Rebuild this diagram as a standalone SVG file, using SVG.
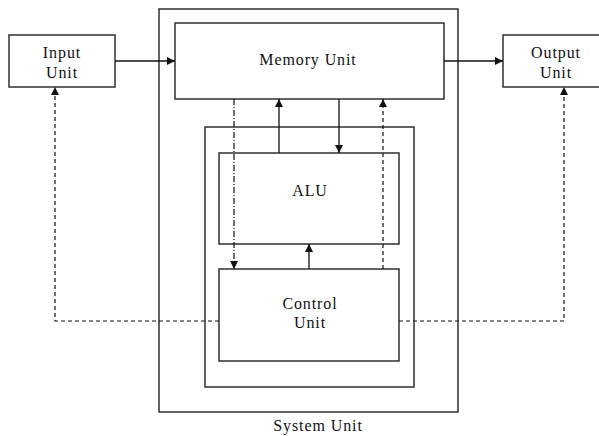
<svg xmlns="http://www.w3.org/2000/svg" width="599" height="436" viewBox="0 0 599 436">
  <style>
    .box { fill: none; stroke: #222; stroke-width: 1.4; }
    .lbl { font-family: "Liberation Serif", "DejaVu Serif", serif; font-size: 16px; letter-spacing: 0.9px; fill: #111; text-anchor: middle; }
    .solid { fill: none; stroke: #111; stroke-width: 1.3; }
    .dash { fill: none; stroke: #111; stroke-width: 1.2; stroke-dasharray: 4 3; }
    .dashdot { fill: none; stroke: #111; stroke-width: 1.2; stroke-dasharray: 6 2 1 2; }
  </style>
  <defs>
    <marker id="arrow" viewBox="0 0 10 10" refX="10" refY="5" markerWidth="8" markerHeight="8" markerUnits="userSpaceOnUse" orient="auto">
      <path d="M0,0 L10,5 L0,10 Z" fill="#111"/>
    </marker>
  </defs>
  <rect width="599" height="436" fill="#fff"/>

  <g id="system-unit">
    <rect class="box" x="159" y="9" width="299" height="403"/>
    <text class="lbl" x="318" y="431">System Unit</text>
  </g>

  <g id="processor">
    <rect class="box" x="205" y="127" width="209" height="260"/>
  </g>

  <g id="input-unit">
    <rect class="box" x="9" y="35" width="106" height="52"/>
    <text class="lbl" x="62" y="58">Input</text>
    <text class="lbl" x="62" y="78">Unit</text>
  </g>

  <g id="output-unit">
    <rect class="box" x="503" y="35" width="106" height="52"/>
    <text class="lbl" x="556" y="58">Output</text>
    <text class="lbl" x="556" y="78">Unit</text>
  </g>

  <g id="memory-unit">
    <rect class="box" x="175" y="23" width="269" height="76"/>
    <text class="lbl" x="308" y="65">Memory Unit</text>
  </g>

  <g id="alu">
    <rect class="box" x="219" y="153" width="180" height="91"/>
    <text class="lbl" x="310" y="196">ALU</text>
  </g>

  <g id="control-unit">
    <rect class="box" x="219" y="269" width="180" height="92"/>
    <text class="lbl" x="310" y="309">Control</text>
    <text class="lbl" x="310" y="328">Unit</text>
  </g>

  <g id="connectors">
    <!-- data flow -->
    <line class="solid" x1="115" y1="61" x2="175" y2="61" marker-end="url(#arrow)"/>
    <line class="solid" x1="444" y1="61" x2="503" y2="61" marker-end="url(#arrow)"/>
    <line class="solid" x1="279" y1="153" x2="279" y2="99" marker-end="url(#arrow)"/>
    <line class="solid" x1="339" y1="99" x2="339" y2="153" marker-end="url(#arrow)"/>
    <line class="solid" x1="309" y1="269" x2="309" y2="244" marker-end="url(#arrow)"/>
    <!-- control signals -->
    <line class="dashdot" x1="234" y1="99" x2="234" y2="269" marker-end="url(#arrow)"/>
    <line class="dash" x1="383" y1="269" x2="383" y2="99" marker-end="url(#arrow)"/>
    <polyline class="dash" points="219,321 55,321 55,87" marker-end="url(#arrow)"/>
    <polyline class="dash" points="399,321 564,321 564,87" marker-end="url(#arrow)"/>
  </g>
</svg>
